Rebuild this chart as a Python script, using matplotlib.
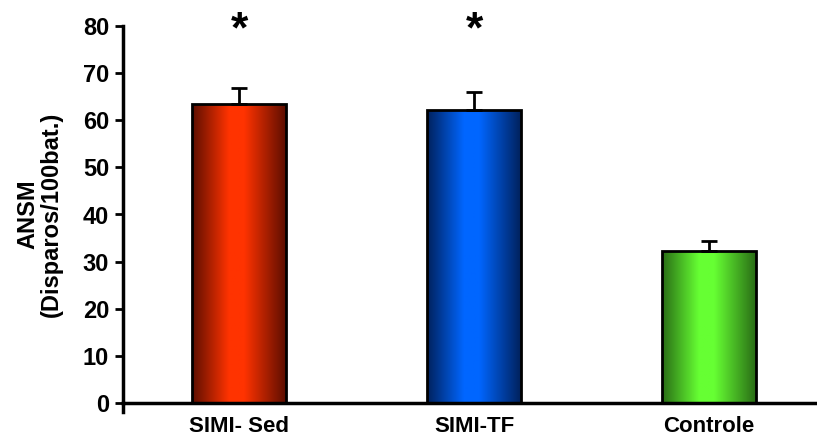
import numpy as np
import matplotlib
matplotlib.use("Agg")
import matplotlib.pyplot as plt
from matplotlib.colors import LinearSegmentedColormap
from matplotlib.patches import Rectangle

# dados
grupos = ["SIMI- Sed", "SIMI-TF", "Controle"]
medias = [63.5, 62.2, 32.3]
erros = [3.4, 3.8, 2.1]
asterisco = ["*", "*", ""]
cor_centro = ["#FF3300", "#0066FF", "#66FF33"]
cor_borda = ["#5E0E00", "#00225E", "#2A6E16"]

plt.rcParams["font.family"] = ["Liberation Sans", "DejaVu Sans"]
plt.rcParams["font.weight"] = "bold"

fig = plt.figure(figsize=(8.17, 4.40), dpi=100)
ax = fig.add_axes([123/817, 1-403/440, 1-123/817, (403-26)/440])

x = np.arange(len(grupos))
larg = 0.4
grad = np.concatenate([np.linspace(0, 1, 40), np.ones(15), np.linspace(1, 0, 45)])[None, :]

for i in range(len(grupos)):
    cmap = LinearSegmentedColormap.from_list("g%d" % i, [cor_borda[i], cor_centro[i]])
    x0 = x[i] - larg/2
    ret = Rectangle((x0, 0), larg, medias[i], facecolor="none",
                    edgecolor="black", linewidth=2, zorder=3)
    ax.add_patch(ret)
    im = ax.imshow(grad, cmap=cmap, aspect="auto", extent=[x0, x0+larg, 0, medias[i]],
                   zorder=2, interpolation="bilinear")
    im.set_clip_path(ret)
    ax.errorbar(x[i], medias[i], yerr=[[0], [erros[i]]], fmt="none", ecolor="black",
                elinewidth=2, capsize=6, capthick=2, zorder=4)
    if asterisco[i]:
        ax.text(x[i], 79.0, asterisco[i], ha="center", va="center", fontsize=32,
                fontweight="bold", clip_on=False)

ax.set_xlim(-0.494, 2.46)
ax.set_ylim(0, 80)
ax.set_yticks(range(0, 81, 10))
ax.set_xticks(x)
ax.set_xticklabels(grupos, fontsize=16, fontweight="bold")
ax.tick_params(axis="y", labelsize=17, width=2, length=6, direction="out", pad=4)
ax.tick_params(axis="x", length=0, pad=9)
for lab in ax.get_yticklabels():
    lab.set_fontweight("bold")

for s in ["top", "right"]:
    ax.spines[s].set_visible(False)
ax.spines["left"].set_linewidth(2.5)
ax.spines["bottom"].set_linewidth(2.5)
ax.plot([-0.494, -0.494], [0, -2], color="black", lw=2.5, clip_on=False)

ax.set_ylabel("ANSM\n(Disparos/100bat.)", fontsize=17, fontweight="bold", labelpad=14,
              linespacing=1.05)

fig.savefig("out.png", dpi=100)
